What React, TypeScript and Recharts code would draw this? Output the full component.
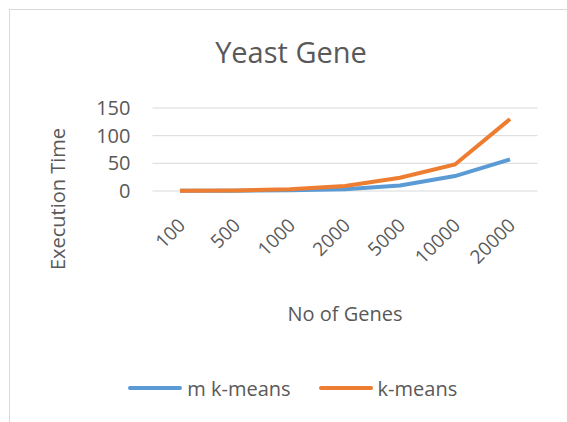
import { LineChart, Line, XAxis, YAxis, CartesianGrid, Legend, Label } from 'recharts'

const genes = ['100', '500', '1000', '2000', '5000', '10000', '20000']
const mKMeans = [0.3, 0.6, 1.5, 3, 10, 27, 57]
const kMeans = [0.5, 1, 3, 9, 24, 48, 130]
const yTicks = [0, 50, 100, 150]
const seriesOrder = ['m k-means', 'k-means']

const data = genes.map((g, i) => ({ genes: g, 'm k-means': mKMeans[i], 'k-means': kMeans[i] }))

const FONT = '"Open Sans", sans-serif'
const TEXT = '#595959'

const LegendContent = ({ payload }: any) => {
  const items = [...(payload || [])].sort((a: any, b: any) => seriesOrder.indexOf(a.value) - seriesOrder.indexOf(b.value))
  return (
    <div style={{ display: 'flex', justifyContent: 'center', paddingLeft: 76, paddingTop: 11, height: 49, fontFamily: FONT, fontSize: 20, color: TEXT }}>
      {items.map((p: any) => (
        <div key={p.value} style={{ display: 'flex', alignItems: 'center', marginRight: 28, height: 30 }}>
          <span style={{ display: 'inline-block', width: 54, height: 4, borderRadius: 2, background: p.color, marginRight: 5 }} />
          {p.value}
        </div>
      ))}
    </div>
  )
}

const YLabel = () => (
  <text x={57} y={199} transform="rotate(-90, 57, 199)" textAnchor="middle" dominantBaseline="central"
    fill={TEXT} fontFamily={FONT} fontSize={20}>Execution Time</text>
)

export default function App() {
  return (
    <div style={{ position: 'absolute', left: 0, top: 0, width: 567, height: 422, background: '#fff', overflow: 'hidden' }}>
      <div style={{ position: 'absolute', left: 9, top: 9, width: 600, height: 500, borderLeft: '1px solid #d9d9d9', borderTop: '1px solid #d9d9d9' }} />
      <div style={{ position: 'absolute', left: 0, width: 582, top: 32, textAlign: 'center', fontFamily: FONT, fontSize: 29, color: TEXT }}>
        Yeast Gene
      </div>
      <LineChart width={567} height={422} data={data} margin={{ top: 108, right: 29.5, left: 0, bottom: 0 }}>
        <CartesianGrid vertical={false} stroke="#d9d9d9" strokeWidth={1} />
        <XAxis dataKey="genes" axisLine={false} tickLine={false} height={171} interval={0}
          padding={{ left: 27.5, right: 27.5 }}
          angle={-45} textAnchor="end" tickSize={0} tickMargin={26} dx={-3}
          tick={{ fill: TEXT, fontFamily: FONT, fontSize: 19 }}>
          <Label value="No of Genes" position="insideTop" offset={116} fill={TEXT} fontFamily={FONT} fontSize={20} />
        </XAxis>
        <YAxis domain={[0, 150]} ticks={yTicks} interval={0} axisLine={false} tickLine={false} width={152.5}
          tickSize={0} tickMargin={22} tick={{ fill: TEXT, fontFamily: FONT, fontSize: 20 }}>
          <Label content={<YLabel />} />
        </YAxis>
        <Legend verticalAlign="bottom" content={<LegendContent />} />
        <Line type="linear" dataKey="m k-means" stroke="#5b9bd5" strokeWidth={4} dot={false} isAnimationActive={false} />
        <Line type="linear" dataKey="k-means" stroke="#ed7d31" strokeWidth={4} dot={false} isAnimationActive={false} />
      </LineChart>
    </div>
  )
}
